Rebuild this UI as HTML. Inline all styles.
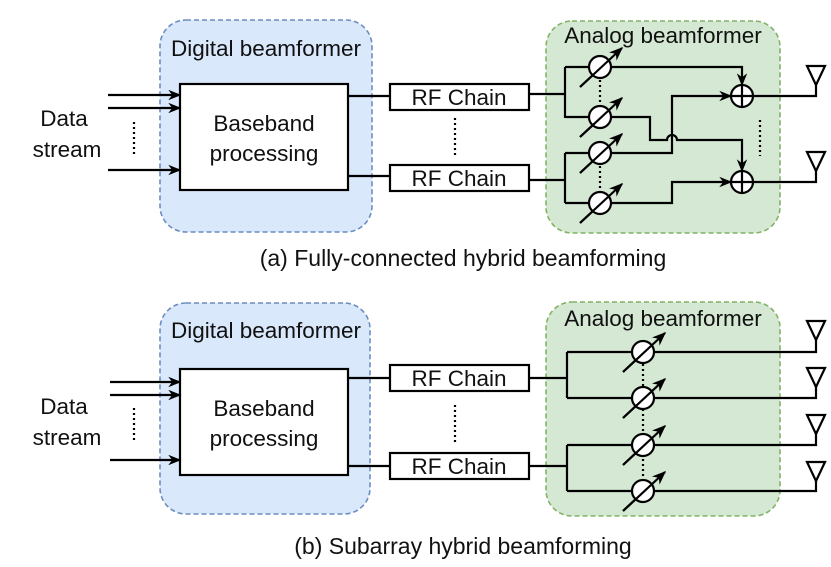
<!DOCTYPE html>
<html><head><meta charset="utf-8"><style>
html,body{margin:0;padding:0;background:#fff;}
svg{display:block;font-family:"Liberation Sans",sans-serif;}
</style></head><body>
<svg width="831" height="567" viewBox="0 0 831 567" xmlns="http://www.w3.org/2000/svg">
<defs>
<marker id="ah" viewBox="0 0 10 10" refX="9" refY="5" markerWidth="13" markerHeight="13" orient="auto" markerUnits="userSpaceOnUse"><path d="M0,1 L10,5 L0,9 L3,5 z" fill="#000"/></marker>
<marker id="ah2" viewBox="0 0 10 10" refX="9" refY="5" markerWidth="14" markerHeight="14" orient="auto" markerUnits="userSpaceOnUse"><path d="M0,1 L10,5 L0,9 L3,5 z" fill="#000"/></marker>
<g id="ps">
<line x1="-20" y1="20" x2="22" y2="-19" stroke="#000" stroke-width="2.2" marker-end="url(#ah2)"/>
<circle r="11" fill="#fff" stroke="#000" stroke-width="2.2"/>
<line x1="-20" y1="20" x2="8" y2="-6" stroke="#000" stroke-width="2.2"/>
</g>
<g id="ant"><path d="M-9,0 L9,0 L0,19 Z" fill="#fff" stroke="#000" stroke-width="2.2"/></g>
</defs>
<g stroke-width="1.6" stroke-dasharray="5,3">
<rect x="160" y="20" width="212" height="212" rx="26" fill="#dae8fc" stroke="#6c8ebf"/>
<rect x="546" y="21" width="234" height="212" rx="26" fill="#d5e8d4" stroke="#82b366"/>
<rect x="160" y="303" width="210" height="211" rx="26" fill="#dae8fc" stroke="#6c8ebf"/>
<rect x="546" y="302" width="234" height="214" rx="26" fill="#d5e8d4" stroke="#82b366"/>
</g>
<g font-size="22.5" fill="#111">
<text x="266" y="56" text-anchor="middle">Digital beamformer</text>
<text x="663" y="43" text-anchor="middle">Analog beamformer</text>
<text x="266" y="338" text-anchor="middle">Digital beamformer</text>
<text x="663" y="326" text-anchor="middle">Analog beamformer</text>
<text x="463" y="266" text-anchor="middle" font-size="23">(a) Fully-connected hybrid beamforming</text>
<text x="463" y="554" text-anchor="middle" font-size="23">(b) Subarray hybrid beamforming</text>
<text x="64" y="126" text-anchor="middle">Data</text><text x="67" y="157" text-anchor="middle">stream</text>
<text x="64" y="414" text-anchor="middle">Data</text><text x="67" y="445" text-anchor="middle">stream</text>
</g>
<g stroke="#000" stroke-width="2.2" fill="none">
<rect x="180" y="84" width="168" height="106" fill="#fff"/>
<rect x="180" y="369" width="168" height="106" fill="#fff"/>
<rect x="390" y="84" width="139" height="26" fill="#fff"/>
<rect x="390" y="165" width="139" height="26" fill="#fff"/>
<rect x="390" y="365" width="139" height="26" fill="#fff"/>
<rect x="390" y="453" width="139" height="26" fill="#fff"/>
<line x1="108" y1="95" x2="180" y2="95" marker-end="url(#ah)"/>
<line x1="108" y1="108" x2="180" y2="108" marker-end="url(#ah)"/>
<line x1="108" y1="170" x2="180" y2="170" marker-end="url(#ah)"/>
<line x1="110" y1="382" x2="180" y2="382" marker-end="url(#ah)"/>
<line x1="110" y1="395" x2="180" y2="395" marker-end="url(#ah)"/>
<line x1="110" y1="460" x2="180" y2="460" marker-end="url(#ah)"/>
<line x1="348" y1="96" x2="390" y2="96"/><line x1="348" y1="176" x2="390" y2="176"/>
<line x1="348" y1="378" x2="390" y2="378"/><line x1="348" y1="466" x2="390" y2="466"/>
<path d="M529,94 H565 M565,67 V118 M529,180 H565 M565,153 V203"/>
<path d="M565,67 H742 V85" marker-end="url(#ah)"/>
<path d="M565,117 H650 V140 H667 A5,5 0 0 1 677,140 H742 V171" marker-end="url(#ah)"/>
<path d="M565,153 H672 V96 H731" marker-end="url(#ah)"/>
<path d="M565,203 H672 V182 H731" marker-end="url(#ah)"/>
<path d="M753,96 H816 V85 M753,182 H816 V171"/>
<path d="M529,378 H567 M567,352 V398 M529,466 H567 M567,445 V491"/>
<path d="M567,352 H816 V340 M567,398 H816 V386 M567,445 H816 V433 M567,491 H816 V480"/>
</g>
<g stroke="#000" stroke-width="2.2" stroke-dasharray="2,3">
<line x1="134" y1="122" x2="134" y2="155"/><line x1="455" y1="118" x2="455" y2="155"/>
<line x1="600" y1="80" x2="600" y2="104"/><line x1="600" y1="166" x2="600" y2="190"/>
<line x1="760" y1="120" x2="760" y2="156"/>
<line x1="134" y1="408" x2="134" y2="443"/><line x1="455" y1="405" x2="455" y2="442"/>
<line x1="643" y1="364" x2="643" y2="480"/>
</g>
<g fill="#fff" stroke="#000" stroke-width="2.2">
<circle cx="742" cy="96" r="11"/><circle cx="742" cy="182" r="11"/>
</g>
<path d="M731,96 H753 M742,85 V107 M731,182 H753 M742,171 V193" stroke="#000" stroke-width="2.2"/>
<use href="#ps" x="600" y="67"/><use href="#ps" x="600" y="117"/><use href="#ps" x="600" y="153"/><use href="#ps" x="600" y="203"/>
<use href="#ps" x="643" y="352"/><use href="#ps" x="643" y="398"/><use href="#ps" x="643" y="445"/><use href="#ps" x="643" y="491"/>
<use href="#ant" x="816" y="66"/><use href="#ant" x="816" y="152"/>
<use href="#ant" x="816" y="321"/><use href="#ant" x="816" y="368"/><use href="#ant" x="816" y="415"/><use href="#ant" x="816" y="462"/>
<g font-size="22.5" fill="#111" text-anchor="middle">
<text x="459" y="105">RF Chain</text><text x="459" y="186">RF Chain</text>
<text x="459" y="386">RF Chain</text><text x="459" y="474">RF Chain</text>
<text x="264" y="131">Baseband</text><text x="264" y="161">processing</text>
<text x="264" y="416">Baseband</text><text x="264" y="446">processing</text>
</g>
</svg>
</body></html>
